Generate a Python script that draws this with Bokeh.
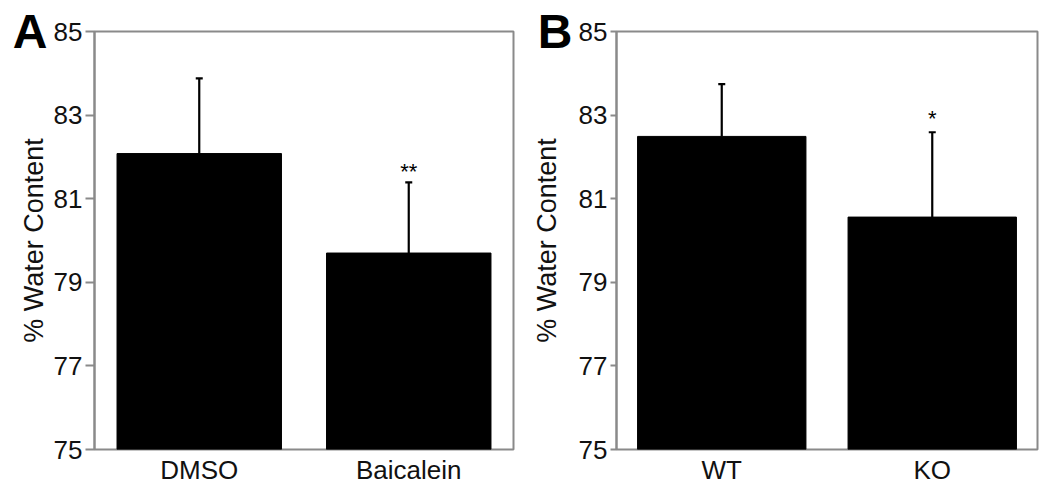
from bokeh.plotting import figure
from bokeh.layouts import row
from bokeh.models import (ColumnDataSource, Whisker, TeeHead, FixedTicker, Range1d,
                          LinearAxis)
from bokeh.core.properties import value
from bokeh.embed import file_html
from bokeh.resources import INLINE

# ---- data ----
groups_a = ["DMSO", "Baicalein"]
means_a = [82.08, 79.70]
err_top_a = [83.88, 81.39]
sig_a = ["", "**"]

groups_b = ["WT", "KO"]
means_b = [82.49, 80.56]
err_top_b = [83.74, 82.59]
sig_b = ["", "*"]

y_ticks = [75, 77, 79, 81, 83, 85]
y_min, y_max = 75, 85
y_label = "% Water Content"

FONT = "Liberation Sans"
GRAY = "#8a8a8a"


def panel(groups, means, errs, sig, letter, frame_w, border_left, border_right,
          bar_w, tick_out, label_standoff, star_offset):
    src = ColumnDataSource(dict(g=groups, m=means, e=errs, s=sig))
    p = figure(x_range=groups, y_range=Range1d(y_min, y_max),
               frame_width=frame_w, frame_height=418,
               min_border_left=border_left, min_border_right=border_right,
               min_border_top=31, min_border_bottom=38,
               toolbar_location=None, output_backend="svg",
               background_fill_color="white", border_fill_color="white")
    p.vbar(x="g", top="m", bottom=y_min, width=bar_w, source=src,
           fill_color="black", line_color="black")
    p.add_layout(Whisker(source=src, base="g", lower="m", upper="e",
                         line_color="black", line_width=2.2,
                         upper_head=TeeHead(size=7, line_color="black", line_width=2.2),
                         lower_head=None))
    p.text(x="g", y="e", text="s", source=src, text_align="center",
           text_baseline="bottom", y_offset=star_offset,
           text_font=value(FONT), text_font_size="22px", text_color="black")

    p.xgrid.visible = False
    p.ygrid.visible = False
    p.outline_line_color = GRAY
    p.outline_line_width = 2

    # main y axis: ticks and numbers
    ya = p.yaxis[0]
    ya.ticker = FixedTicker(ticks=y_ticks)
    ya.minor_tick_line_color = None
    ya.major_tick_in = 0
    ya.major_tick_out = tick_out
    ya.major_tick_line_color = GRAY
    ya.major_tick_line_width = 2
    ya.axis_line_color = GRAY
    ya.axis_line_width = 2
    ya.major_label_text_font = FONT
    ya.major_label_text_font_size = "26px"
    ya.major_label_text_color = "#111111"
    ya.major_label_standoff = 3

    # outer axis: panel letter at the top, and the axis title
    outer = LinearAxis(ticker=FixedTicker(ticks=[y_max]),
                       major_label_overrides={y_max: letter},
                       axis_line_color=None, major_tick_line_color=None,
                       minor_tick_line_color=None,
                       major_tick_in=0, major_tick_out=0,
                       major_label_standoff=3,
                       major_label_text_font=FONT,
                       major_label_text_font_size="48px",
                       major_label_text_font_style="bold",
                       major_label_text_color="black",
                       axis_label=y_label,
                       axis_label_text_font=FONT,
                       axis_label_text_font_size="27px",
                       axis_label_text_font_style="normal",
                       axis_label_text_color="#111111",
                       axis_label_standoff=label_standoff)
    p.add_layout(outer, "left")

    xa = p.xaxis[0]
    xa.major_tick_in = 0
    xa.major_tick_out = 0
    xa.minor_tick_line_color = None
    xa.axis_line_color = None
    xa.major_label_text_font = FONT
    xa.major_label_text_font_size = "26px"
    xa.major_label_text_color = "#111111"
    xa.major_label_standoff = 5
    return p


pa = panel(groups_a, means_a, err_top_a, sig_a, "A", 419, 94, 7, 0.785, 9, -39, 2)
pb = panel(groups_b, means_b, err_top_b, sig_b, "B", 421, 96, 8, 0.8, 6, -27, -1)

layout = row(pa, pb)
open("out.html", "w").write(file_html(layout, INLINE))
